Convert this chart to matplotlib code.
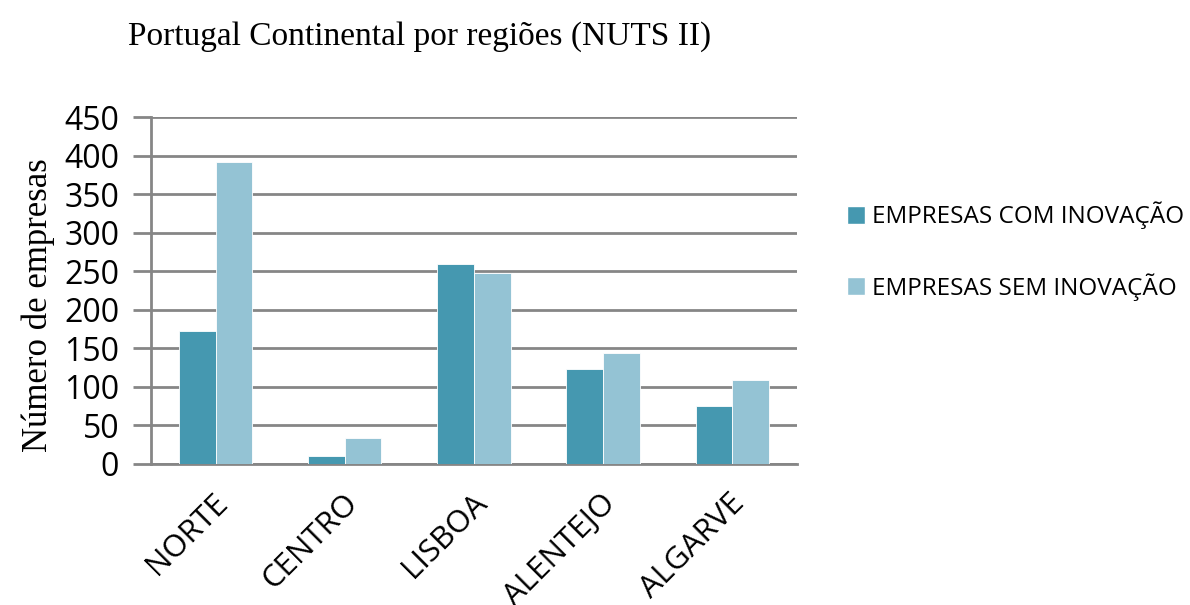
import numpy as np
import matplotlib.pyplot as plt
import matplotlib.transforms as mtransforms
from matplotlib.patches import Patch

# dados
regioes = ['NORTE', 'CENTRO', 'LISBOA', 'ALENTEJO', 'ALGARVE']
com_inovacao = [173, 10, 259, 123, 75]
sem_inovacao = [392, 34, 248, 144, 109]
series = ['EMPRESAS COM INOVAÇÃO', 'EMPRESAS SEM INOVAÇÃO']
cores = ['#4598B0', '#94C3D4']

sans = ['Open Sans', 'DejaVu Sans']
serif = ['Liberation Serif', 'DejaVu Serif']

fig = plt.figure(figsize=(11.9, 6.05), dpi=100)
ax = fig.add_axes([0.1269, 0.2331, 0.5428, 0.5735])

x = np.arange(len(regioes))
w = 0.284
ax.bar(x - w / 2, com_inovacao, w, color=cores[0], edgecolor='white', linewidth=0.6, zorder=3)
ax.bar(x + w / 2, sem_inovacao, w, color=cores[1], edgecolor='white', linewidth=0.6, zorder=3)

ax.set_xlim(-0.5, len(regioes) - 0.5)
ax.set_ylim(0, 450)
ax.set_yticks(np.arange(0, 451, 50))
ax.yaxis.grid(True, color='#868686', linewidth=2, zorder=0)
ax.set_axisbelow(True)

for s in ['top', 'right']:
    ax.spines[s].set_visible(False)
ax.spines['left'].set_color('#868686')
ax.spines['left'].set_linewidth(2)
ax.spines['bottom'].set_color('#868686')
ax.spines['bottom'].set_linewidth(2)
ax.tick_params(axis='y', length=13, width=2, color='#868686', pad=10)
ax.tick_params(axis='x', length=0, pad=25)

ax.set_xticks(x)
ax.set_xticklabels(regioes, rotation=45, ha='right', va='center', rotation_mode='anchor',
                   family=sans, fontsize=22.5)
desloc = mtransforms.ScaledTranslation(8 / 100, 0, fig.dpi_scale_trans)
for lbl in ax.get_xticklabels():
    lbl.set_transform(lbl.get_transform() + desloc)
for lbl in ax.get_yticklabels():
    lbl.set_family(sans)
    lbl.set_fontsize(23)

ax.set_ylabel('Número de empresas', family=serif, fontsize=25)
ax.yaxis.set_label_coords(-0.148, 0.458)
fig.text(0.1076, 0.94, 'Portugal Continental por regiões (NUTS II)', family=serif,
         fontsize=24, ha='left', va='center')

handles = [Patch(facecolor=c, edgecolor='white') for c in cores]
fig.legend(handles, series, loc='center left', bbox_to_anchor=(0.693, 0.585), frameon=False,
           prop={'family': sans, 'size': 17.5}, handlelength=0.75, handleheight=0.75,
           handletextpad=0.3, labelspacing=1.8)

fig.savefig('out.png', dpi=100)
